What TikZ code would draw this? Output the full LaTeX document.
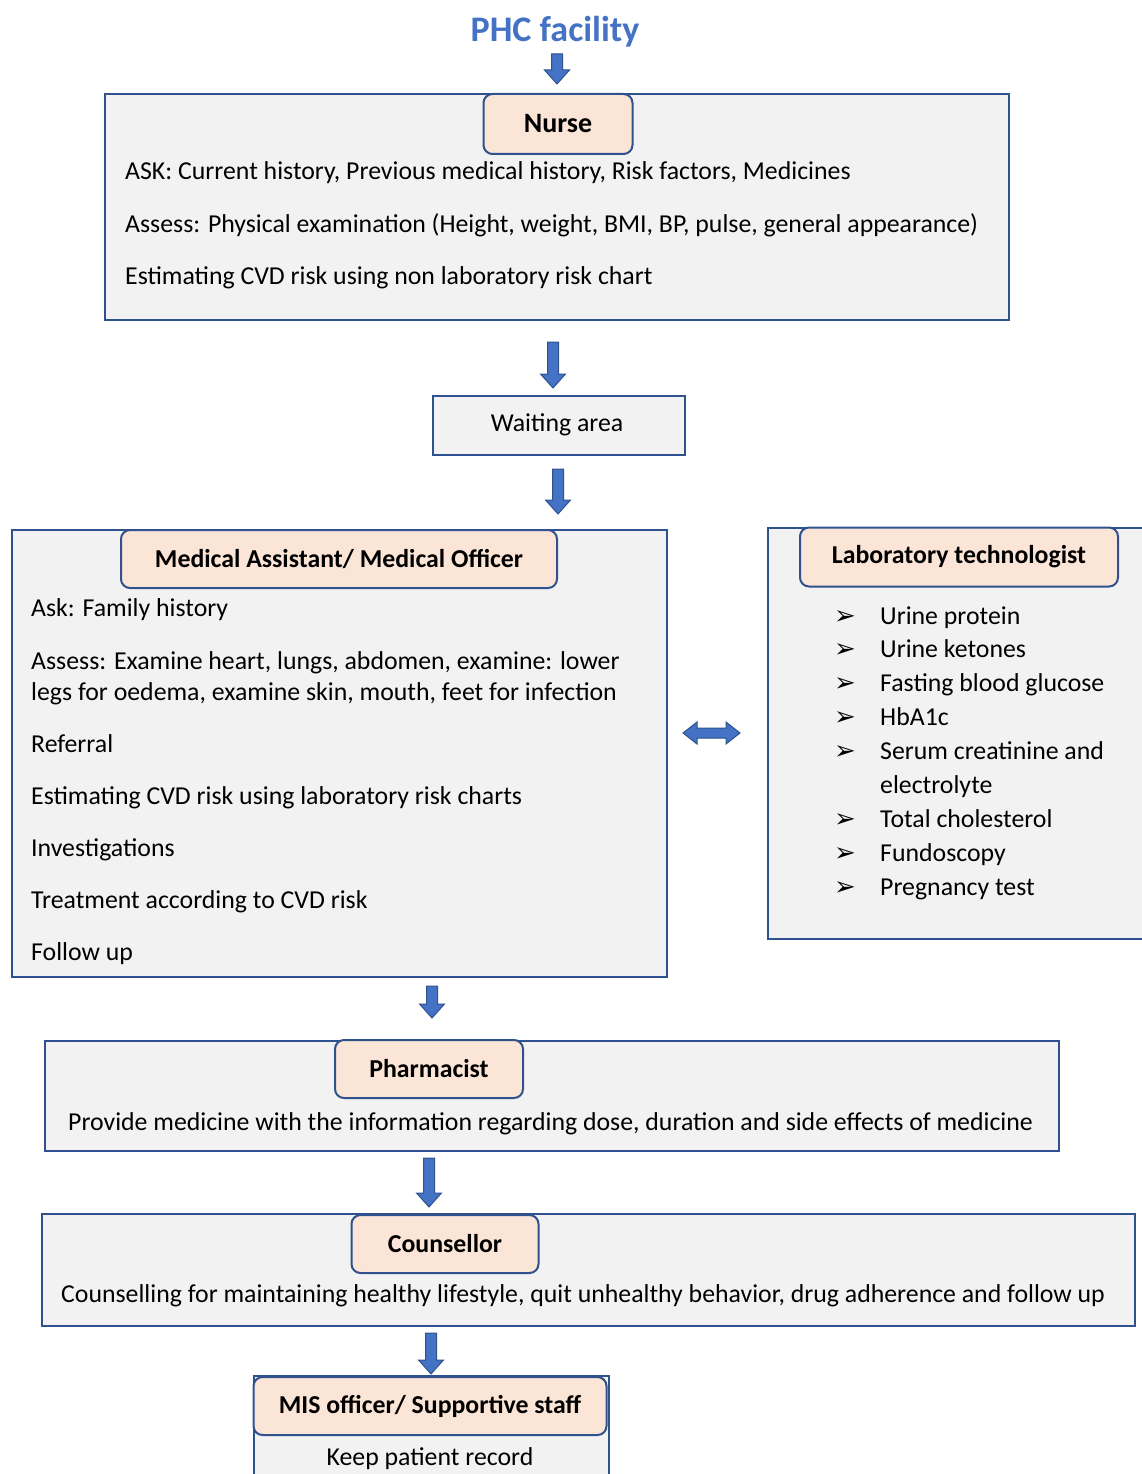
\documentclass[tikz,border=0pt]{standalone}
\usepackage{fontspec}
\setmainfont{Carlito}
\newfontfamily\symfont{DejaVu Sans}
\usetikzlibrary{calc}
\definecolor{outl}{HTML}{2F528F}
\definecolor{blk}{HTML}{4472C4}
\definecolor{boxfill}{HTML}{F2F2F2}
\definecolor{titlefill}{HTML}{FBE5D6}
\newcommand\vblock[2]{%
  \path let \p1=#1, \p2=#2 in [blockarr]
    (\x1-5.5pt,\y1) -- (\x1+5.5pt,\y1) -- (\x1+5.5pt,\y2+14pt) -- (\x1+12.5pt,\y2+14pt)
    -- (\x1,\y2) -- (\x1-12.5pt,\y2+14pt) -- (\x1-5.5pt,\y2+14pt) -- cycle;}
\begin{document}
\begin{tikzpicture}[x=1pt,y=-1pt,
  outerbox/.style={draw=outl, line width=2pt, fill=boxfill, anchor=north west, inner sep=0pt},
  titlebox/.style={draw=outl, line width=2pt, fill=titlefill, rounded corners=9pt, inner sep=0pt,
    font=\fontsize{25.8}{30}\selectfont\bfseries},
  txt/.style={anchor=base west, inner sep=0pt, font=\fontsize{25.8}{30}\selectfont},
  ctxt/.style={anchor=base, inner sep=0pt, font=\fontsize{25.8}{30}\selectfont},
  bul/.style={anchor=base west, inner sep=0pt, font=\symfont\fontsize{26}{28}\selectfont},
  blockarr/.style={fill=blk, draw=outl, line width=1pt, line join=miter},
]
\useasboundingbox (0,0) rectangle (1142,1474);
\clip (0,0) rectangle (1142,1474);

% title
\node[inner sep=0pt, text=blk, font=\fontsize{36}{42}\selectfont\bfseries, anchor=base] (phc) at (555,42) {PHC facility};

% Nurse
\node[outerbox, minimum width=904, minimum height=226] (nursebox) at (104,93) {};
\node[titlebox, minimum width=149, minimum height=60, font=\fontsize{28}{32}\selectfont\bfseries] (nursetitle) at (558,124) {Nurse};
\node[txt] (n1) at (125,180) {ASK: Current history, Previous medical history, Risk factors, Medicines};
\node[txt] (n2) at (125,232) {Assess: Physical examination (Height, weight, BMI, BP, pulse, general appearance)};
\node[txt] (n3) at (125,284) {Estimating CVD risk using non laboratory risk chart};

% Waiting area
\node[outerbox, minimum width=252, minimum height=59] (wait) at (432,395) {};
\node[ctxt] (waittxt) at (557,431) {Waiting area};

% Medical assistant
\node[outerbox, minimum width=655, minimum height=447] (mabox) at (11,529) {};
\node[titlebox, minimum width=436, minimum height=58] (matitle) at (339,559) {Medical Assistant/ Medical Officer};
\node[txt] (m1) at (31,616) {Ask: Family history};
\node[txt] (m2) at (31,669) {Assess: Examine heart, lungs, abdomen, examine: lower};
\node[txt] (m3) at (31,700) {legs for oedema, examine skin, mouth, feet for infection};
\node[txt] (m4) at (31,752) {Referral};
\node[txt] (m5) at (31,804) {Estimating CVD risk using laboratory risk charts};
\node[txt] (m6) at (31,856) {Investigations};
\node[txt] (m7) at (31,908) {Treatment according to CVD risk};
\node[txt] (m8) at (31,960) {Follow up};

% Laboratory
\node[outerbox, minimum width=400, minimum height=411] (labbox) at (767,527) {};
\node[titlebox, minimum width=318, minimum height=59] (labtitle) at (959,557) {Laboratory technologist};
\foreach \i/\y/\t in {1/624/Urine protein, 2/657/Urine ketones, 3/691/Fasting blood glucose, 4/725/HbA1c,
  5/759/Serum creatinine and, 7/827/Total cholesterol, 8/861/Fundoscopy, 9/895/Pregnancy test}{
  \node[bul] (lb\i) at (834,\y) {➢};
  \node[txt] (lt\i) at (880,\y) {\t};
}
\node[txt] (lt6) at (880,793) {electrolyte};

% Pharmacist
\node[outerbox, minimum width=1014, minimum height=110] (pharmbox) at (44,1040) {};
\node[titlebox, minimum width=188, minimum height=58] (pharmtitle) at (429,1069) {Pharmacist};
\node[txt] (p1) at (68,1130) {Provide medicine with the information regarding dose, duration and side effects of medicine};

% Counsellor
\node[outerbox, minimum width=1093, minimum height=112] (counsbox) at (41,1213) {};
\node[titlebox, minimum width=187, minimum height=58] (counstitle) at (445,1244) {Counsellor};
\node[txt] (c1) at (61,1302) {Counselling for maintaining healthy lifestyle, quit unhealthy behavior, drug adherence and follow up};

% MIS
\node[outerbox, minimum width=355, minimum height=120] (misbox) at (253,1375) {};
\node[titlebox, minimum width=353, minimum height=58] (mistitle) at (430,1406) {MIS officer/ Supportive staff};
\node[ctxt] (mis1) at (430,1465) {Keep patient record};

% block arrows
\vblock{($(phc.south)+(2,6)$)}{($(nursebox.north)+(0,-9)$)}
\vblock{($(nursebox.south)+(-4,21)$)}{($(wait.north)+(0,-7)$)}
\vblock{($(wait.south)+(-1,13)$)}{($(mabox.north)+(0,-15)$)}
\vblock{($(mabox.south -| pharmtitle.south)+(3,8)$)}{($(pharmbox.north)+(0,-22)$)}
\vblock{($(pharmbox.south -| pharmtitle.south)+(0,6)$)}{($(counsbox.north)+(0,-6)$)}
\vblock{($(counsbox.south -| mistitle.south)+(1,6)$)}{($(misbox.north)+(0,-1)$)}

% double arrow
\path let \p1=($(mabox.east)+(15,-20.5)$), \p2=($(labbox.west)+(-27,-0.5)$) in [blockarr]
  (\x1,\y1) -- (\x1+14pt,\y1+11pt) -- (\x1+14pt,\y1+5pt) -- (\x2-14pt,\y1+5pt) -- (\x2-14pt,\y1+11pt)
  -- (\x2,\y1) -- (\x2-14pt,\y1-11pt) -- (\x2-14pt,\y1-5pt) -- (\x1+14pt,\y1-5pt) -- (\x1+14pt,\y1-11pt) -- cycle;
\end{tikzpicture}
\end{document}
